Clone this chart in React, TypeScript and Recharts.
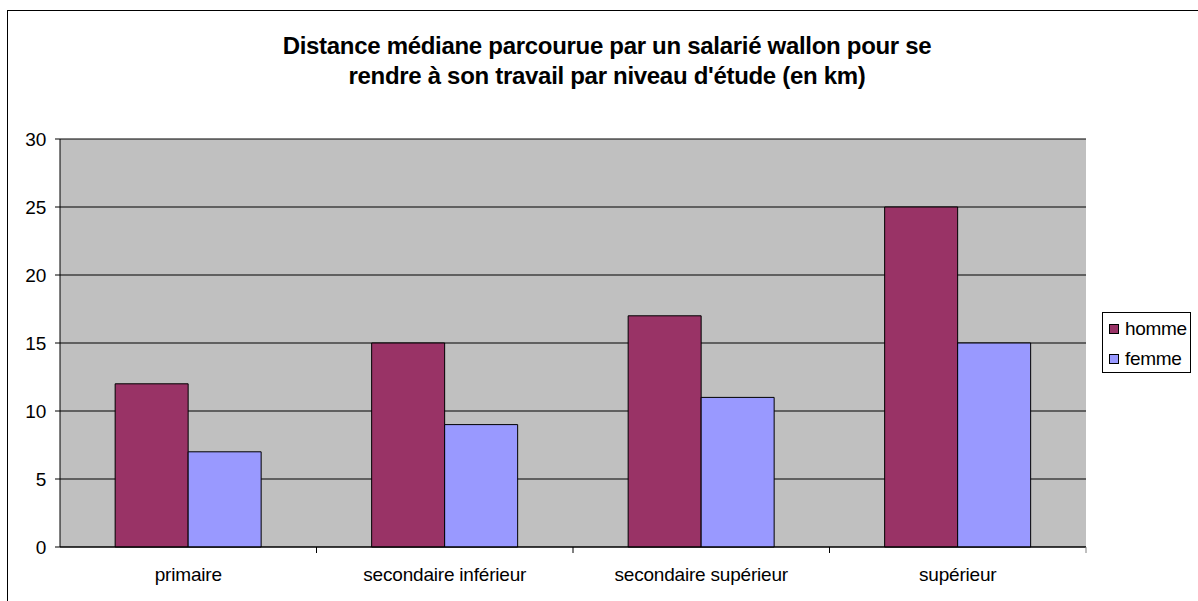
import React from "react";
import { BarChart, Bar, XAxis, YAxis, CartesianGrid } from "recharts";

const categories = ["primaire", "secondaire inférieur", "secondaire supérieur", "supérieur"];
const homme = [12, 15, 17, 25];
const femme = [7, 9, 11, 15];
const yTicks = [0, 5, 10, 15, 20, 25, 30];
const titleLines = [
  "Distance médiane parcourue par un salarié wallon pour se",
  "rendre à son travail par niveau d'étude (en km)",
];
const seriesInfo = [
  { key: "homme", label: "homme", color: "#993366" },
  { key: "femme", label: "femme", color: "#9999FF" },
];

const data = categories.map((c, i) => ({ name: c, homme: homme[i], femme: femme[i] }));

const FONT = "'Liberation Sans', Arial, sans-serif";

const LegendBox = () => (
  <div
    style={{
      position: "absolute",
      left: 1102,
      top: 312,
      width: 89,
      height: 61,
      border: "1px solid #000",
      boxSizing: "border-box",
      background: "#fff",
      fontFamily: FONT,
      fontSize: 19,
      letterSpacing: -0.3,
      color: "#000",
      paddingTop: 1,
    }}
  >
    {seriesInfo.map((it) => (
      <div key={it.key} style={{ display: "flex", alignItems: "center", height: 30, paddingLeft: 6 }}>
        <span
          style={{
            display: "inline-block",
            width: 10,
            height: 10,
            boxSizing: "border-box",
            background: it.color,
            border: "1px solid #000",
            marginRight: 6,
          }}
        />
        <span>{it.label}</span>
      </div>
    ))}
  </div>
);

export default function App() {
  return (
    <div style={{ position: "absolute", left: 0, top: 0, width: 1198, height: 601, overflow: "hidden", background: "#fff" }}>
      <div style={{ position: "absolute", left: 7, top: 10, width: 1200, height: 600, border: "1px solid #000", boxSizing: "border-box" }} />
      <div style={{ position: "absolute", left: 0, top: 0 }}>
        <BarChart
          width={1198}
          height={601}
          data={data}
          margin={{ top: 139, right: 112, bottom: 14, left: 0 }}
          barGap={0}
          barCategoryGap="21.5%"
        >
          <CartesianGrid vertical={false} stroke="#000" fill="#C0C0C0" fillOpacity={1} />
          <XAxis
            dataKey="name"
            height={40}
            interval={0}
            tickLine={false}
            axisLine={{ stroke: "#000" }}
            tick={{ fill: "#000", fontSize: 19, fontFamily: FONT, letterSpacing: -0.2 }}
            tickMargin={15}
          />
          <YAxis
            width={60}
            domain={[0, 30]}
            ticks={yTicks}
            interval={0}
            tickSize={5}
            tickLine={{ stroke: "#000" }}
            axisLine={{ stroke: "#000" }}
            tick={{ fill: "#000", fontSize: 19, fontFamily: FONT, letterSpacing: -0.2 }}
            tickMargin={9}
          />
          <YAxis yAxisId="right" orientation="right" width={0} tick={false} tickLine={false} axisLine={{ stroke: "#808080" }} />
          <Bar dataKey="homme" fill="#993366" stroke="#000" strokeWidth={1} isAnimationActive={false} />
          <Bar dataKey="femme" fill="#9999FF" stroke="#000" strokeWidth={1} isAnimationActive={false} />
        </BarChart>
      </div>
      <svg style={{ position: "absolute", left: 0, top: 0 }} width={1198} height={601} pointerEvents="none">
        {[1, 2, 3].map((k) => (
          <line key={k} x1={60 + k * 256.5} x2={60 + k * 256.5} y1={547} y2={553} stroke="#000" />
        ))}
        <line x1={1086} x2={1086} y1={547} y2={553} stroke="#808080" />
      </svg>
      <LegendBox />
      <div
        style={{
          position: "absolute",
          left: 0,
          width: 1214,
          top: 31,
          textAlign: "center",
          fontFamily: FONT,
          fontWeight: "bold",
          fontSize: 24,
          letterSpacing: -0.3,
          lineHeight: "30px",
          color: "#000",
        }}
      >
        {titleLines.map((l) => (
          <div key={l}>{l}</div>
        ))}
      </div>
    </div>
  );
}
